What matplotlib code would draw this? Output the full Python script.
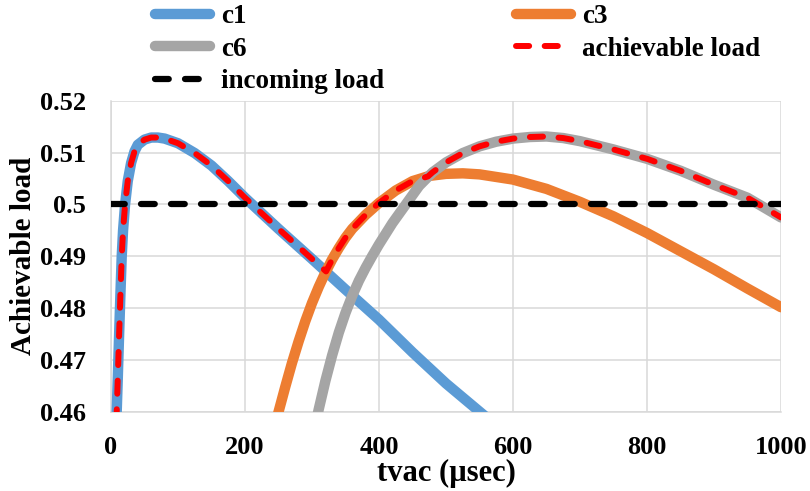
import matplotlib
matplotlib.use("Agg")
import matplotlib.pyplot as plt
from matplotlib.ticker import FixedLocator, FuncFormatter

# ---------------- data ----------------
c1_x = [8, 10, 12, 14, 16, 18, 21, 25, 30, 35, 40, 50, 60, 70, 80, 100, 125, 150, 175, 200,
        250, 300, 350, 400, 450, 500, 560]
c1_y = [0.4580, 0.4660, 0.4745, 0.4825, 0.4900, 0.4950, 0.5000, 0.5045, 0.5080, 0.5102,
        0.5115, 0.5125, 0.5129, 0.5129, 0.5127, 0.5118, 0.5099, 0.5075, 0.5045, 0.5013,
        0.4953, 0.4895, 0.4836, 0.4778, 0.4715, 0.4655, 0.4590]

c3_x = [245, 250, 260, 270, 280, 290, 300, 310, 320, 330, 340, 350, 360, 380, 400, 425,
        450, 475, 500, 525, 550, 600, 650, 700, 750, 800, 850, 900, 950, 1000]
c3_y = [0.4575, 0.4600, 0.4648, 0.4694, 0.4736, 0.4775, 0.4810, 0.4841, 0.4869, 0.4894,
        0.4916, 0.4936, 0.4953, 0.4980, 0.5003, 0.5027, 0.5045, 0.5055, 0.5059, 0.5060,
        0.5058, 0.5048, 0.5030, 0.5005, 0.4977, 0.4945, 0.4910, 0.4875, 0.4838, 0.4802]

c6_x = [305, 310, 320, 330, 340, 350, 360, 370, 380, 390, 400, 420, 440, 460, 480, 500,
        525, 550, 575, 600, 625, 650, 675, 700, 750, 800, 850, 900, 950, 1000]
c6_y = [0.4575, 0.4605, 0.4660, 0.4709, 0.4753, 0.4791, 0.4824, 0.4853, 0.4878, 0.4901,
        0.4923, 0.4964, 0.5000, 0.5036, 0.5062, 0.5081, 0.5099, 0.5112, 0.5121, 0.5127,
        0.5130, 0.5131, 0.5128, 0.5122, 0.5106, 0.5088, 0.5065, 0.5038, 0.5013, 0.4975]

ach_x = [8, 10, 12, 14, 16, 18, 21, 25, 30, 35, 40, 50, 60, 70, 80, 100, 125, 150, 175, 200,
         250, 300, 321, 330, 340, 350, 360, 380, 400, 425, 450, 473, 480, 500, 525, 550,
         575, 600, 625, 650, 675, 700, 750, 800, 850, 900, 950, 1000]
ach_y = [0.4580, 0.4660, 0.4745, 0.4825, 0.4900, 0.4950, 0.5000, 0.5045, 0.5080, 0.5102,
         0.5115, 0.5125, 0.5129, 0.5129, 0.5127, 0.5118, 0.5099, 0.5075, 0.5045, 0.5013,
         0.4953, 0.4895, 0.4871, 0.4894, 0.4916, 0.4936, 0.4953, 0.4980, 0.5003, 0.5027,
         0.5045, 0.5054, 0.5062, 0.5081, 0.5099, 0.5112, 0.5121, 0.5127, 0.5130, 0.5131,
         0.5128, 0.5122, 0.5106, 0.5088, 0.5065, 0.5038, 0.5013, 0.4975]

inc_x = [0, 1000]
inc_y = [0.5, 0.5]

x_ticks = [0, 200, 400, 600, 800, 1000]
y_ticks = [0.46, 0.47, 0.48, 0.49, 0.50, 0.51, 0.52]
x_label = "tvac (µsec)"
y_label = "Achievable load"

# ---------------- figure ----------------
plt.rcParams['font.family'] = ['Liberation Serif', 'DejaVu Serif']
plt.rcParams['font.weight'] = 'bold'

fig = plt.figure(figsize=(8.10, 4.91), dpi=100)
ax = fig.add_axes([111 / 810, 1 - 412 / 491, 670 / 810, (412 - 100.7) / 491])

lw_thick = 7.5
ax.plot(c1_x, c1_y, color='#5B9BD5', lw=lw_thick, solid_capstyle='round',
        solid_joinstyle='round', label='c1', zorder=3)
ax.plot(c3_x, c3_y, color='#ED7D31', lw=lw_thick, solid_capstyle='round',
        solid_joinstyle='round', label='c3', zorder=3)
ax.plot(c6_x, c6_y, color='#A5A5A5', lw=lw_thick, solid_capstyle='round',
        solid_joinstyle='round', label='c6', zorder=3)
l_ach, = ax.plot(ach_x, ach_y, color='#FF0000', lw=4.3, dash_capstyle='round',
                 label='achievable load', zorder=4)
l_ach.set_dashes((2.2, 2.6))
l_inc, = ax.plot(inc_x, inc_y, color='#000000', lw=4.5, dash_capstyle='round',
                 label='incoming load', zorder=5)
l_inc.set_dashes((2.2, 2.6))

ax.set_xlim(0, 1000)
ax.set_ylim(0.46, 0.52)
ax.xaxis.set_major_locator(FixedLocator(x_ticks))
ax.yaxis.set_major_locator(FixedLocator(y_ticks))
ax.yaxis.set_major_formatter(FuncFormatter(lambda v, p: ('%.2f' % v).rstrip('0')))
ax.grid(True, color='#D9D9D9', lw=1.1, zorder=0)
ax.set_axisbelow(True)
for s in ['top', 'right']:
    ax.spines[s].set_visible(False)
for s in ['left', 'bottom']:
    ax.spines[s].set_color('#D9D9D9')
    ax.spines[s].set_linewidth(1.1)
ax.tick_params(axis='both', length=0, labelsize=19)
ax.tick_params(axis='y', pad=18)
ax.tick_params(axis='x', pad=17)
for t in ax.get_xticklabels() + ax.get_yticklabels():
    t.set_fontweight('bold')

ax.set_xlabel(x_label, fontsize=22, fontweight='bold', labelpad=0)
ax.set_ylabel(y_label, fontsize=21, fontweight='bold', labelpad=2)

handles, labels = ax.get_legend_handles_labels()
order = [0, 2, 4, 1, 3]
leg = fig.legend([handles[i] for i in order], [labels[i] for i in order],
                 loc='upper left', bbox_to_anchor=(155 / 810, 1 - 4 / 491), ncol=2,
                 frameon=False, prop={'weight': 'bold', 'size': 19.5},
                 handlelength=2.03, handletextpad=0.42, columnspacing=4.85,
                 labelspacing=0.28, borderpad=0, borderaxespad=0)

fig.savefig('out.png', dpi=100)
